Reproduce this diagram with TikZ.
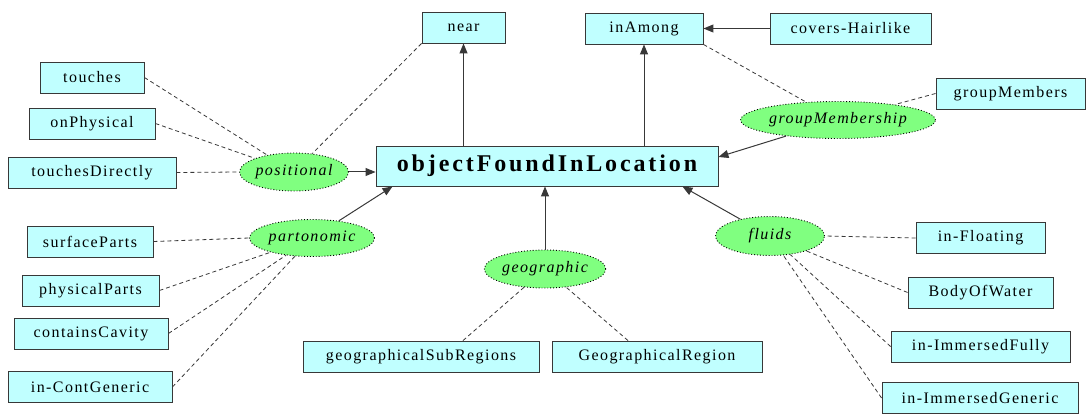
\documentclass[tikz,border=0pt]{standalone}
\usepackage{fontspec}
\setmainfont{Liberation Serif}[LetterSpace=9]
\usetikzlibrary{shapes.geometric, arrows.meta, positioning, calc}
\definecolor{conceptcyan}{RGB}{192, 255, 255}
\definecolor{relgreen}{RGB}{128, 255, 128}
\definecolor{edgegray}{RGB}{56, 56, 56}
\tikzset{
    conceptbox/.style={draw=edgegray, line width=0.9pt, fill=conceptcyan, rectangle, minimum height=31pt, inner sep=0pt, font=\fontsize{16}{19}\selectfont},
    mainbox/.style={conceptbox, minimum height=40pt, font=\fontsize{24}{28}\selectfont\bfseries\addfontfeatures{LetterSpace=12}},
    relnode/.style={ellipse, draw=black, dotted, line width=0.9pt, fill=relgreen, inner sep=0pt, font=\fontsize{16}{19}\selectfont\itshape},
    genarrow/.style={-{Triangle[length=10pt, width=8pt]}, line width=1pt, draw=edgegray},
    memberline/.style={dash pattern=on 4pt off 3pt, line width=0.8pt, draw=edgegray},
}

\begin{document}
\begin{tikzpicture}[x=1pt, y=-1pt]
    \useasboundingbox (0, 0) rectangle (1086, 414);

    % Central concept
    \node[mainbox, minimum width=342pt] (objFound) at (547, 166) {objectFoundInLocation};

    % Top row
    \node[conceptbox, minimum width=83pt] (near) at (463.5, 27.5) {near};
    \node[conceptbox, minimum width=118pt] (inAmong) at (644, 28.5) {inAmong};
    \node[conceptbox, minimum width=161pt] (coversHairlike) at (850.5, 28.5) {covers-Hairlike};
    \node[conceptbox, minimum width=149pt] (groupMembers) at (1010.5, 93.5) {groupMembers};

    % Left column, positional
    \node[conceptbox, minimum width=104pt] (touches) at (92, 77.5) {touches};
    \node[conceptbox, minimum width=126pt] (onPhysical) at (92, 123.5) {onPhysical};
    \node[conceptbox, minimum width=168pt] (touchesDirectly) at (92, 172.5) {touchesDirectly};

    % Left column, partonomic
    \node[conceptbox, minimum width=126pt] (surfaceParts) at (90, 241.5) {surfaceParts};
    \node[conceptbox, minimum width=137pt] (physicalParts) at (90.5, 290.5) {physicalParts};
    \node[conceptbox, minimum width=154pt] (containsCavity) at (91, 333.5) {containsCavity};
    \node[conceptbox, minimum width=164pt] (inContGeneric) at (90, 387) {in-ContGeneric};

    % Bottom, geographic
    \node[conceptbox, minimum width=236pt] (geoSubRegions) at (421, 356.5) {geographicalSubRegions};
    \node[conceptbox, minimum width=210pt] (geoRegion) at (657, 356.5) {GeographicalRegion};

    % Right column, fluids
    \node[conceptbox, minimum width=129pt] (inFloating) at (980.5, 238) {in-Floating};
    \node[conceptbox, minimum width=145pt] (bodyOfWater) at (980.5, 292.5) {BodyOfWater};
    \node[conceptbox, minimum width=179pt] (inImmersedFully) at (980.5, 346.5) {in-ImmersedFully};
    \node[conceptbox, minimum width=196pt] (inImmersedGeneric) at (980, 398) {in-ImmersedGeneric};

    % Relation ellipses
    \node[relnode, minimum width=96pt, minimum height=38pt] (positional) at (294, 172) {positional};
    \node[relnode, minimum width=125pt, minimum height=37pt] (partonomic) at (312, 238) {partonomic};
    \node[relnode, minimum width=107pt, minimum height=38pt] (geographic) at (545, 269) {geographic};
    \node[relnode, minimum width=109pt, minimum height=39pt] (fluids) at (770, 236) {fluids};
    \node[relnode, minimum width=160pt, minimum height=37pt] (groupMembership) at (838, 120) {groupMembership};

    % Solid arrows
    \draw[genarrow] (positional.east) -- (positional.east -| objFound.west);
    \draw[genarrow] (partonomic) -- ([xshift=17pt]objFound.south west);
    \draw[genarrow] (geographic.north) -- (geographic.north |- objFound.south);
    \draw[genarrow] (fluids) -- ([xshift=-36pt]objFound.south east);
    \draw[genarrow] (groupMembership) -- ([yshift=9pt]objFound.east);
    \draw[genarrow] (near.south |- objFound.north) -- (near.south);
    \draw[genarrow] (inAmong.south |- objFound.north) -- (inAmong.south);
    \draw[genarrow] (coversHairlike.west) -- (inAmong.east);

    % Dashed member lines
    \draw[memberline] (touches.east) -- (positional);
    \draw[memberline] (onPhysical.east) -- (positional);
    \draw[memberline] (touchesDirectly.east) -- (positional.west);
    \draw[memberline] (near.south west) -- (positional);
    \draw[memberline] (surfaceParts.east) -- (partonomic.west);
    \draw[memberline] (physicalParts.east) -- (partonomic);
    \draw[memberline] (containsCavity.east) -- (partonomic);
    \draw[memberline] (inContGeneric.east) -- (partonomic);
    \draw[memberline] ([xshift=42pt]geoSubRegions.north) -- (geographic);
    \draw[memberline] ([xshift=-29pt]geoRegion.north) -- (geographic);
    \draw[memberline] (inFloating.west) -- (fluids.east);
    \draw[memberline] (bodyOfWater.west) -- (fluids);
    \draw[memberline] (inImmersedFully.west) -- (fluids);
    \draw[memberline] (inImmersedGeneric.west) -- (fluids);
    \draw[memberline] (inAmong.south east) -- (groupMembership);
    \draw[memberline] (groupMembers.west) -- (groupMembership);
\end{tikzpicture}
\end{document}
